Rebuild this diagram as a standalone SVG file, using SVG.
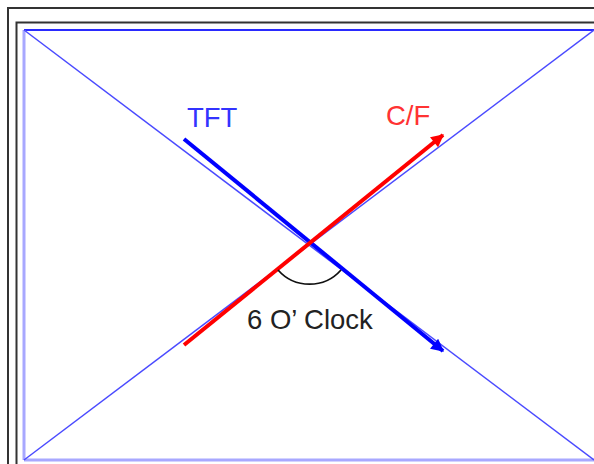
<svg xmlns="http://www.w3.org/2000/svg" width="594" height="464" viewBox="0 0 594 464">
  <style>
    .frame { fill: none; stroke: #333; stroke-width: 2; }
    .diag { stroke: #4a4aff; stroke-width: 1.5; fill: none; }
    .lbl { font-family: "Liberation Sans", Arial, sans-serif; font-size: 27.5px; }
  </style>
  <defs>
    <marker id="headBlue" viewBox="0 0 10 10" refX="9" refY="5" markerWidth="4.5" markerHeight="3.2" orient="auto" markerUnits="strokeWidth">
      <path d="M0,0 L10,5 L0,10 z" fill="#0000ff"/>
    </marker>
    <marker id="headRed" viewBox="0 0 10 10" refX="9" refY="5" markerWidth="4.5" markerHeight="3.2" orient="auto" markerUnits="strokeWidth">
      <path d="M0,0 L10,5 L0,10 z" fill="#ff0000"/>
    </marker>
  </defs>
  <rect width="594" height="464" fill="#ffffff"/>
  <g id="frame">
    <rect class="frame" x="8" y="8" width="620" height="480"/>
    <rect class="frame" x="16.5" y="22.5" width="600" height="470"/>
  </g>
  <g id="panel">
    <line x1="24" y1="30" x2="600" y2="30" stroke="#2a2aff" stroke-width="2"/>
    <line x1="24" y1="30" x2="24" y2="460" stroke="#a8a8ff" stroke-width="3"/>
    <line x1="24" y1="460" x2="600" y2="460" stroke="#a8a8ff" stroke-width="3"/>
  </g>
  <g id="connectors">
    <line class="diag" x1="24" y1="30" x2="594" y2="460"/>
    <line class="diag" x1="24" y1="460" x2="594" y2="30"/>
    <line id="tft-arrow" x1="184" y1="139" x2="443" y2="351" stroke="#0000ff" stroke-width="4" marker-end="url(#headBlue)"/>
    <line id="cf-arrow" x1="184" y1="345" x2="443" y2="135" stroke="#ff0000" stroke-width="4" marker-end="url(#headRed)"/>
    <path id="angle" d="M278,270 A42,42 0 0 0 341,270" fill="none" stroke="#111" stroke-width="1.8"/>
  </g>
  <g id="tft-label">
    <text class="lbl" x="187" y="127" fill="#3333ff">TFT</text>
  </g>
  <g id="cf-label">
    <text class="lbl" x="386" y="125" fill="#ff3333">C/F</text>
  </g>
  <g id="clock-label">
    <text class="lbl" x="247" y="329" fill="#222">6 O’ Clock</text>
  </g>
</svg>
